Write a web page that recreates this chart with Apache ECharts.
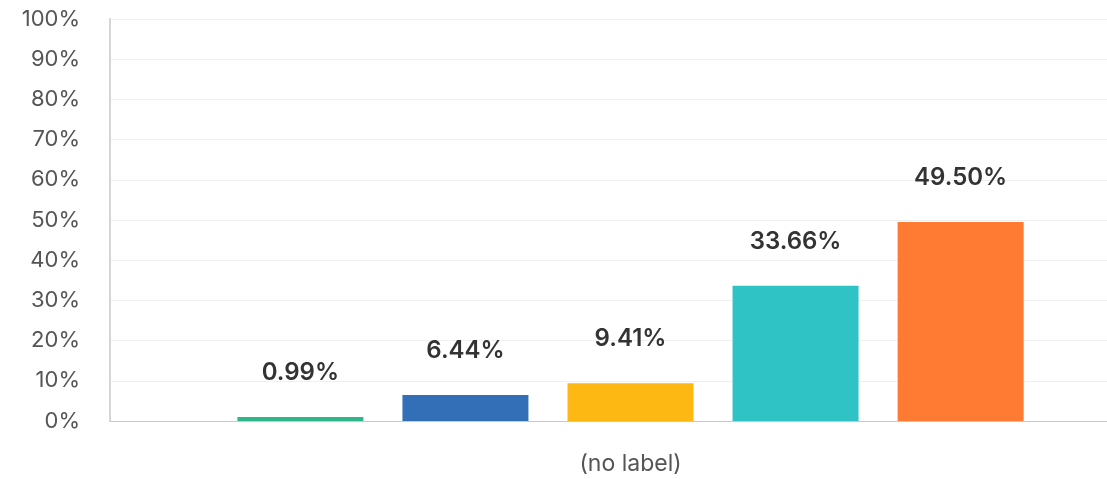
<!DOCTYPE html>
<html>
<head>
<meta charset="utf-8">
<script src="https://cdn.jsdelivr.net/npm/echarts@6/dist/echarts.min.js"></script>
<style>
  html, body { margin: 0; padding: 0; background: #fff; overflow: hidden; }
  /* plot runs past the right edge of the window */
  #chart { width: 1151px; height: 479px; }
</style>
</head>
<body>
<div id="chart"></div>
<script>
// Single answer group, one bar per response option
const categories = ['(no label)'];
const seriesNames = ['Option 1', 'Option 2', 'Option 3', 'Option 4', 'Option 5'];
const seriesValues = [0.99, 6.44, 9.41, 33.66, 49.50];
const seriesColors = ['#2fb68a', '#336fb7', '#fdb813', '#2fc3c6', '#ff7a32'];
const yTicks = [0, 10, 20, 30, 40, 50, 60, 70, 80, 90, 100];

const FONT = 'Inter, "Open Sans", "DejaVu Sans", sans-serif';

const chart = echarts.init(document.getElementById('chart'), null, { renderer: 'canvas' });

const series = seriesValues.map((v, i) => ({
  name: seriesNames[i],
  type: 'bar',
  data: [v],
  barWidth: 126,
  barGap: '31%',
  itemStyle: { color: seriesColors[i] },
  label: {
    show: true,
    position: 'top',
    distance: 32,
    formatter: p => p.value.toFixed(2) + '%',
    color: '#333',
    fontSize: 24,
    fontWeight: 600,
    fontFamily: FONT
  }
}));

chart.setOption({
  animation: false,
  backgroundColor: '#fff',
  grid: { left: 110, right: 0, top: 19, bottom: 58, containLabel: false },
  xAxis: {
    type: 'category',
    data: categories,
    axisTick: { show: false },
    axisLine: { lineStyle: { color: '#c8c8c8', width: 1 } },
    axisLabel: { color: '#555', fontSize: 23, margin: 32, fontFamily: FONT }
  },
  yAxis: {
    type: 'value',
    min: yTicks[0],
    max: yTicks[yTicks.length - 1],
    interval: yTicks[1] - yTicks[0],
    axisLine: { show: true, lineStyle: { color: '#d6d6d6', width: 2 } },
    axisTick: { show: false },
    splitLine: { lineStyle: { color: '#f0f0f0', width: 1 } },
    axisLabel: {
      color: '#555',
      fontSize: 22,
      margin: 30,
      fontFamily: FONT,
      formatter: v => v + '%'
    }
  },
  series: series
});
</script>
</body>
</html>
